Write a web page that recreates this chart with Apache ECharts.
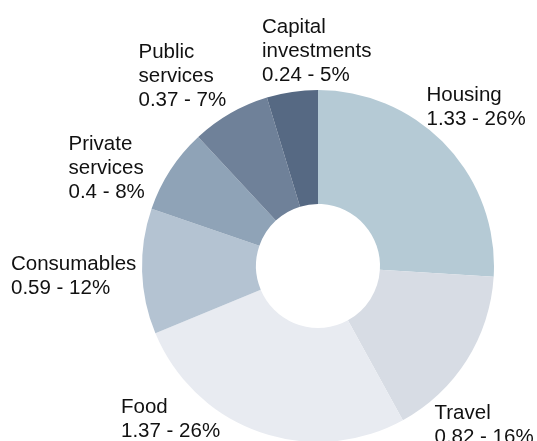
<!DOCTYPE html>
<html>
<head>
<meta charset="utf-8">
<script src="https://cdn.jsdelivr.net/npm/echarts@6/dist/echarts.min.js"></script>
<style>
  html, body { margin: 0; padding: 0; background: #ffffff; }
  #chart { width: 537px; height: 441px; }
</style>
</head>
<body>
<div id="chart"></div>
<script>
// Spending breakdown, clockwise from 12 o'clock
const categories = ['Housing', 'Travel', 'Food', 'Consumables', 'Private services', 'Public services', 'Capital investments'];
const values = [1.33, 0.82, 1.37, 0.59, 0.4, 0.37, 0.24];
const shares = [26, 16, 26, 12, 8, 7, 5];
const labelNames = ['Housing', 'Travel', 'Food', 'Consumables', 'Private\nservices', 'Public\nservices', 'Capital\ninvestments'];

const sliceColors = ['#b5cad5', '#d7dce4', '#e8ebf1', '#b4c3d2', '#8fa3b7', '#6f8199', '#566983'];
// top-left corner of each label block
const labelAnchors = [
  [426.5, 83], [434.5, 401.5], [121, 395], [11, 252], [68.5, 132], [138.5, 40], [262, 15]
];

const chart = echarts.init(document.getElementById('chart'), null, { renderer: 'canvas' });

chart.setOption({
  animation: false,
  backgroundColor: '#ffffff',
  series: [{
    type: 'pie',
    center: [318, 266],
    radius: [62, 176],
    startAngle: 90,
    clockwise: true,
    avoidLabelOverlap: false,
    silent: true,
    itemStyle: { borderWidth: 0 },
    label: {
      show: true,
      position: 'outside',
      color: '#111111',
      fontFamily: 'Liberation Sans, Arial, sans-serif',
      fontSize: 20.5,
      lineHeight: 24,
      align: 'left',
      formatter: p => labelNames[p.dataIndex] + '\n' + values[p.dataIndex] + ' - ' + shares[p.dataIndex] + '%'
    },
    labelLine: { show: false },
    labelLayout: p => ({
      x: labelAnchors[p.dataIndex][0],
      y: labelAnchors[p.dataIndex][1],
      align: 'left',
      verticalAlign: 'top'
    }),
    data: categories.map((name, i) => ({
      name: name,
      value: values[i],
      itemStyle: { color: sliceColors[i] }
    }))
  }]
});
</script>
</body>
</html>
